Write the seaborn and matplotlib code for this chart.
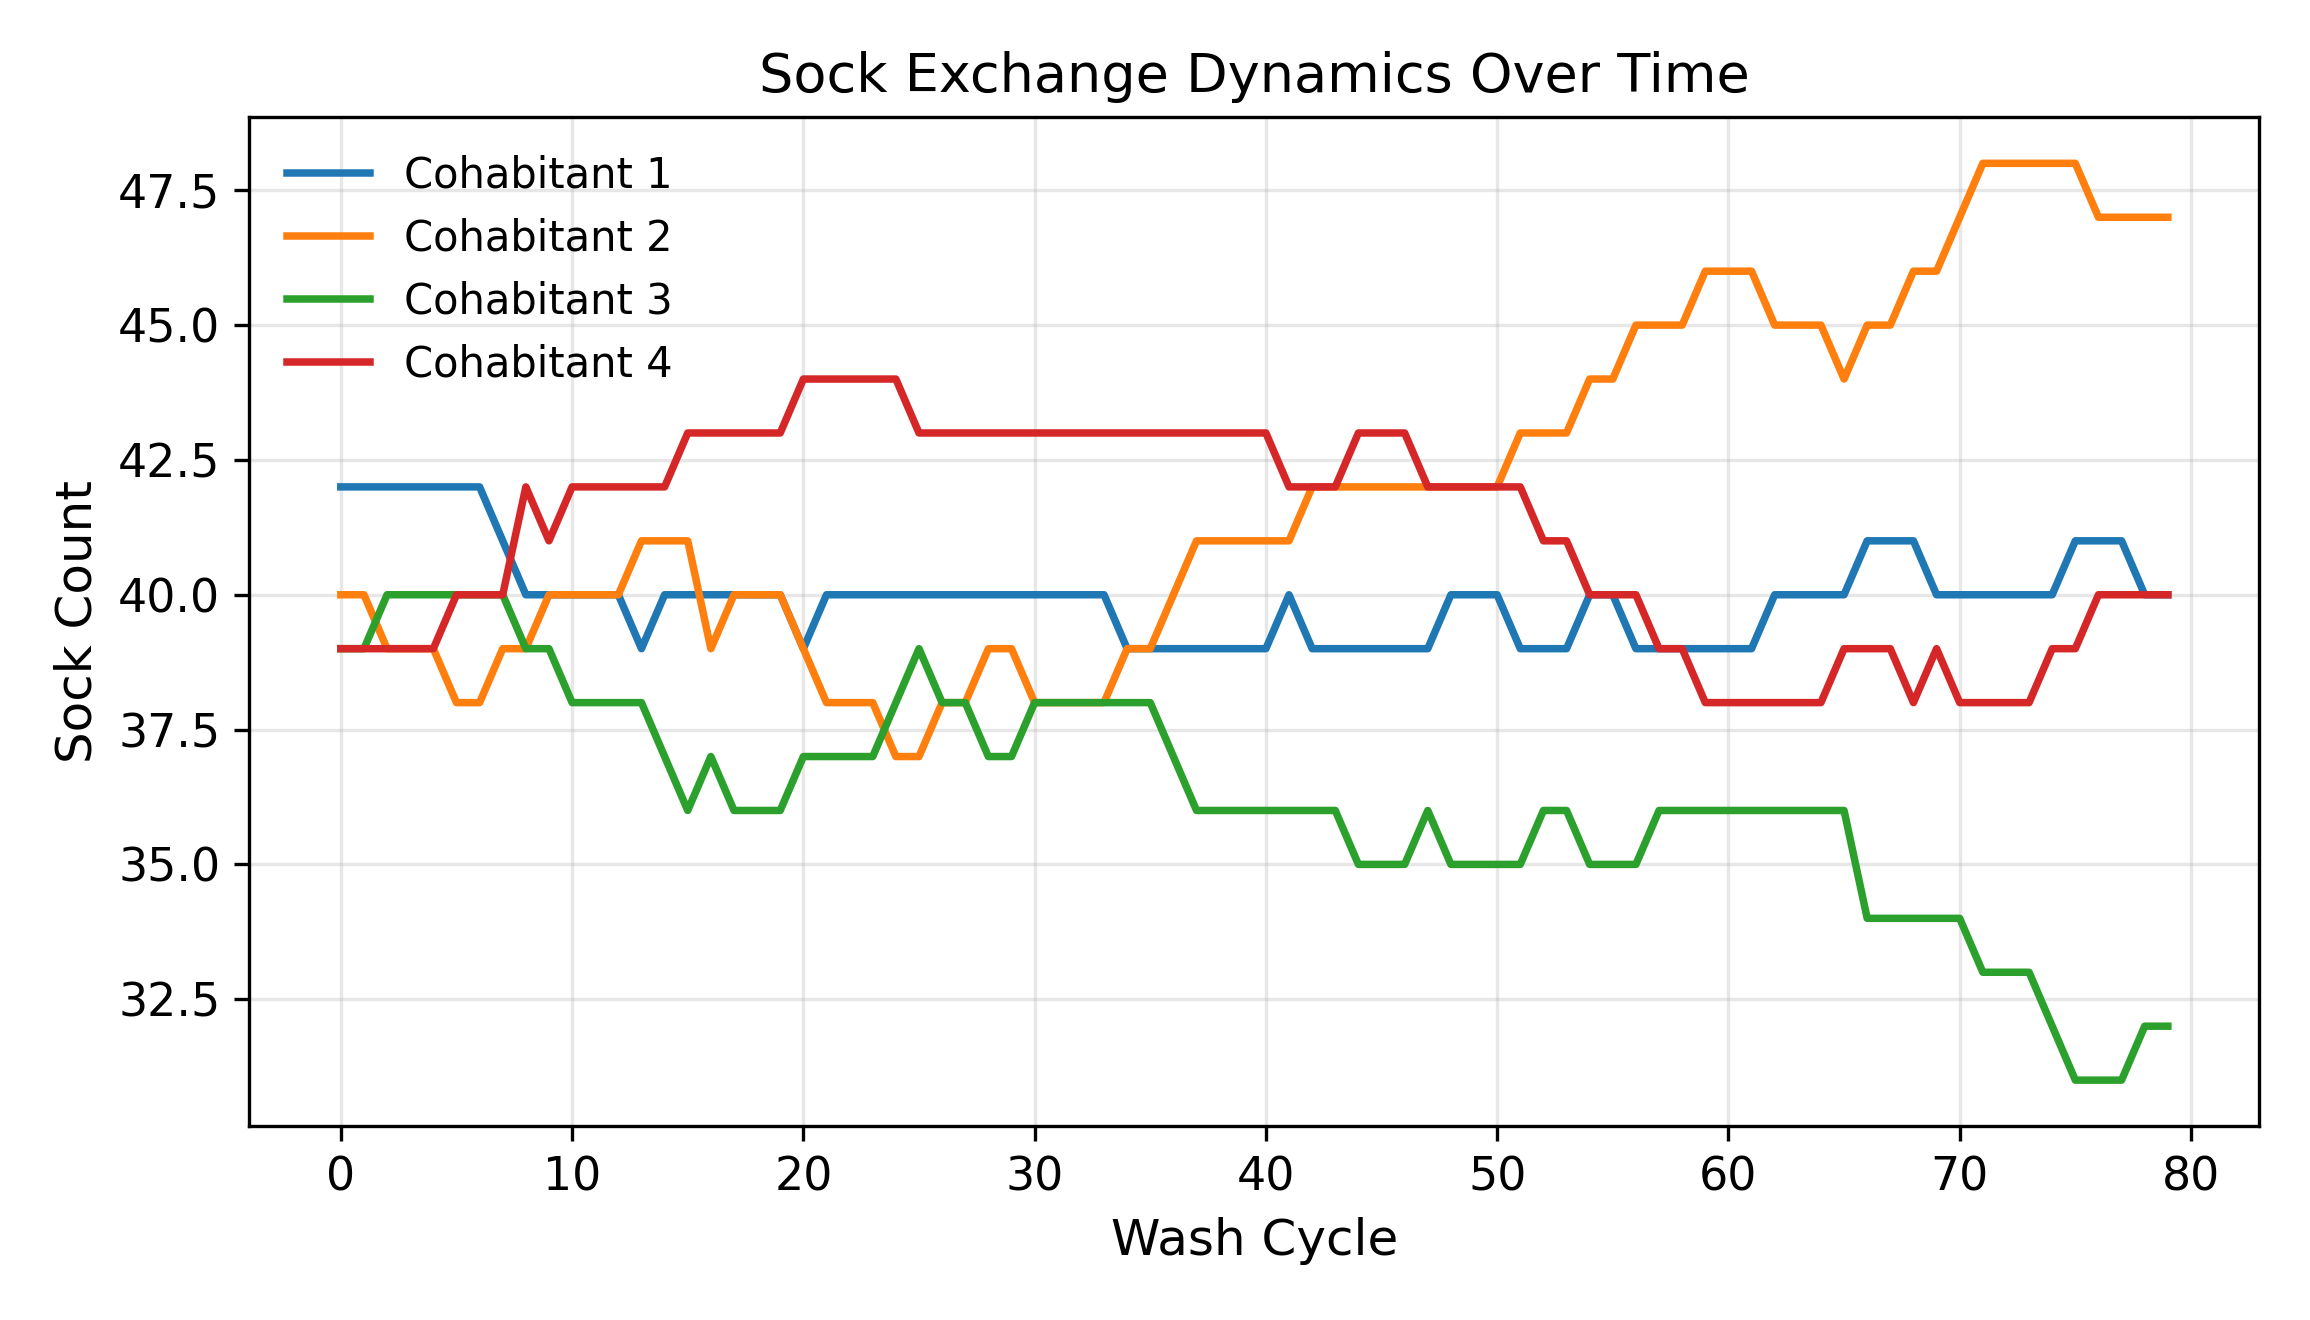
import numpy as np
import pandas as pd
import matplotlib
matplotlib.use("Agg")
import matplotlib.pyplot as plt
import seaborn as sns

cycles = list(range(80))

cohabitant_1 = ([42]*7 + [41] + [40]*5 + [39] + [40]*6 + [39] + [40]*13 + [39]*7 + [40]
                + [39]*6 + [40]*3 + [39]*3 + [40]*2 + [39]*6 + [40]*4 + [41]*3 + [40]*6
                + [41]*3 + [40]*2)
cohabitant_2 = ([40]*2 + [39]*3 + [38]*2 + [39]*2 + [40]*4 + [41]*3 + [39] + [40]*3 + [39]
                + [38]*3 + [37]*2 + [38]*2 + [39]*2 + [38]*4 + [39]*2 + [40] + [41]*5
                + [42]*9 + [43]*3 + [44]*2 + [45]*3 + [46]*3 + [45]*3 + [44] + [45]*2
                + [46]*2 + [47] + [48]*5 + [47]*4)
cohabitant_3 = ([39]*2 + [40]*6 + [39]*2 + [38]*4 + [37] + [36] + [37] + [36]*3 + [37]*4
                + [38] + [39] + [38]*2 + [37]*2 + [38]*6 + [37] + [36]*7 + [35]*3 + [36]
                + [35]*4 + [36]*2 + [35]*3 + [36]*9 + [34]*5 + [33]*3 + [32] + [31]*3 + [32]*2)
cohabitant_4 = ([39]*5 + [40]*3 + [42] + [41] + [42]*5 + [43]*5 + [44]*5 + [43]*16 + [42]*3
                + [43]*3 + [42]*5 + [41]*2 + [40]*3 + [39]*2 + [38]*6 + [39]*3 + [38] + [39]
                + [38]*4 + [39]*2 + [40]*4)

names = ["Cohabitant 1", "Cohabitant 2", "Cohabitant 3", "Cohabitant 4"]
series = [cohabitant_1, cohabitant_2, cohabitant_3, cohabitant_4]

df = pd.concat([pd.DataFrame({"Wash Cycle": cycles, "Sock Count": s, "Who": n})
                for n, s in zip(names, series)], ignore_index=True)

plt.rcParams['font.family'] = ['DejaVu Sans']
fig, ax = plt.subplots(figsize=(7.7, 4.4), dpi=300)
sns.lineplot(data=df, x="Wash Cycle", y="Sock Count", hue="Who",
             palette=["#1f77b4", "#ff7f0e", "#2ca02c", "#d62728"], linewidth=1.8, ax=ax)
ax.grid(True, alpha=0.3)
ax.set_title("Sock Exchange Dynamics Over Time", fontsize=13)
ax.set_xlabel("Wash Cycle", fontsize=12)
ax.set_ylabel("Sock Count", fontsize=12)
ax.tick_params(labelsize=11)
ax.legend(loc="upper left", frameon=False, fontsize=10, title=None)
fig.subplots_adjust(left=0.108, right=0.978, top=0.911, bottom=0.147)
fig.savefig("out.png", dpi=300)
